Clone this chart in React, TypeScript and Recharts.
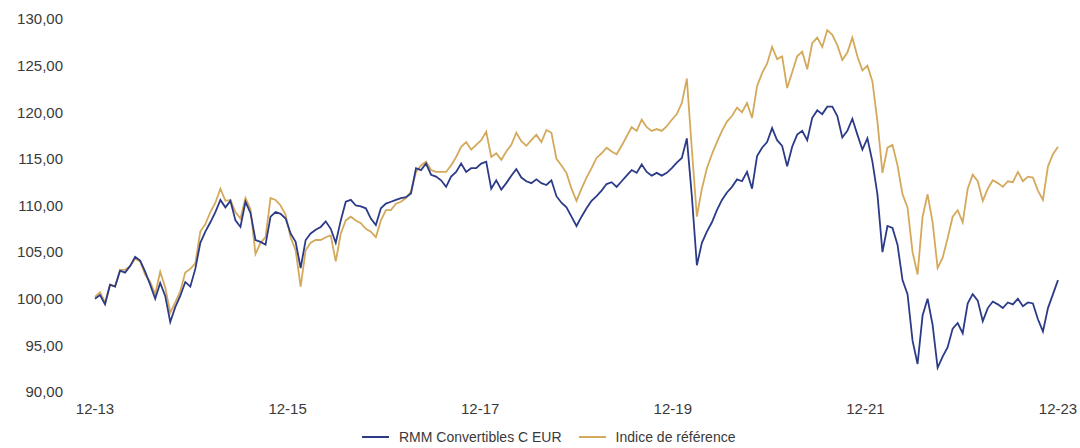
import { Legend, Line, LineChart, XAxis, YAxis } from "recharts";

const COLOR_FUND = "#2c3b88";
const COLOR_INDEX = "#d4a95c";
const TEXT_COLOR = "#3a3a3a";
const FONT = "'Liberation Sans', Arial, sans-serif";

const FUND_NAME = "RMM Convertibles C EUR";
const INDEX_NAME = "Indice de référence";

// x ticks: months since 12-13
const TICK_MONTHS = [0, 24, 48, 72, 96, 120];
const TICK_LABELS = ["12-13", "12-15", "12-17", "12-19", "12-21", "12-23"];
const Y_TICKS = [90, 95, 100, 105, 110, 115, 120, 125, 130];

const FUND = [
  100.0, 100.4, 99.4, 101.5, 101.3, 103.0, 102.8, 103.5, 104.5, 104.1,
  102.9, 101.5, 100.0, 101.7, 100.3, 97.5, 99.1, 100.3, 101.8, 101.3,
  103.2, 106.0, 107.2, 108.2, 109.3, 110.6, 109.8, 110.5, 108.4, 107.7,
  110.4, 109.2, 106.3, 106.1, 105.8, 108.8, 109.3, 109.1, 108.6, 107.0,
  106.1, 103.3, 106.3, 107.0, 107.4, 107.7, 108.3, 107.5, 106.0, 108.4,
  110.4, 110.6, 110.0, 109.9, 109.7, 108.6, 107.9, 109.7, 110.2, 110.4,
  110.6, 110.8, 110.9, 111.3, 114.0, 113.8, 114.5, 113.3, 113.1, 112.7,
  112.0, 113.1, 113.6, 114.5, 113.6, 114.0, 114.0, 114.5, 114.7, 111.8,
  112.7, 111.7, 112.4, 113.2, 113.9, 113.0, 112.6, 112.4, 112.8, 112.4,
  112.2, 112.7, 111.0, 110.3, 109.8, 108.8, 107.8, 108.8, 109.7, 110.5,
  111.0, 111.6, 112.3, 112.5, 112.0, 112.6, 113.2, 113.8, 113.5, 114.4,
  113.6, 113.2, 113.5, 113.2, 113.5, 114.0, 114.6, 115.1, 117.2, 111.0,
  103.6, 106.0, 107.2, 108.2, 109.5, 110.6, 111.4, 112.0, 112.8, 112.6,
  113.6, 111.8, 115.3, 116.2, 116.8, 118.3, 117.0, 116.4, 114.2, 116.3,
  117.6, 118.0, 117.0, 119.4, 120.2, 119.8, 120.6, 120.6, 119.6, 117.3,
  118.0, 119.3, 117.6, 116.0, 117.2, 114.7, 111.2, 105.0, 107.8, 107.6,
  105.8, 102.0, 100.5, 95.5, 93.0, 98.2, 100.0, 97.2, 92.6, 93.8,
  94.8, 96.8, 97.4, 96.3, 99.5, 100.5, 99.8, 97.6, 99.0, 99.7,
  99.4, 99.0, 99.6, 99.4, 100.0, 99.2, 99.6, 99.5, 97.8, 96.5,
  99.0, 100.5, 102.0,
];

const INDEX = [
  100.2, 100.7, 99.6, 101.5, 101.3, 103.1, 103.1, 103.5, 104.3, 104.0,
  102.6, 101.8, 100.5, 102.9, 101.2, 98.5, 99.6, 100.8, 102.8, 103.2,
  103.8, 107.2, 108.0, 109.3, 110.3, 111.8, 110.5, 110.6, 109.3, 108.6,
  110.8, 109.6, 104.8, 106.0, 106.6, 110.8, 110.6, 110.0, 109.0, 106.6,
  105.2, 101.3, 105.2, 106.0, 106.3, 106.3, 106.6, 106.8, 104.0, 107.0,
  108.4, 108.8, 108.4, 108.1, 107.5, 107.2, 106.6, 108.4, 109.5, 109.5,
  110.2, 110.4, 110.8, 111.5, 113.6, 114.3, 114.7, 113.8, 113.6, 113.6,
  113.6, 114.3, 115.2, 116.3, 116.8, 116.0, 116.5, 117.0, 117.9, 115.2,
  115.6, 114.9, 115.8, 116.5, 117.8, 116.9, 116.4, 117.0, 117.6, 116.8,
  118.1, 117.8, 115.0, 114.3, 113.5, 111.8, 110.5, 111.8, 113.0, 114.0,
  115.1, 115.6, 116.2, 115.8, 115.5, 116.4, 117.4, 118.4, 118.0, 119.2,
  118.4, 118.0, 118.2, 118.0, 118.5, 119.2, 119.8, 121.0, 123.6, 116.0,
  108.8, 111.8, 114.0, 115.5, 116.8, 118.0, 119.0, 119.6, 120.5, 120.0,
  121.0, 119.4, 122.8, 124.2, 125.2, 127.0, 125.7, 126.0, 122.6, 124.3,
  126.0, 126.5, 124.6, 127.4, 128.0, 127.0, 128.8, 128.3, 127.2, 125.6,
  126.4, 128.0, 126.0, 124.5, 125.0, 123.3, 119.0, 113.5, 116.2, 116.5,
  114.3, 111.2, 109.8, 105.0, 102.6, 108.8, 111.2, 108.2, 103.3, 104.4,
  106.5, 108.8, 109.5, 108.2, 111.8, 113.3, 112.6, 110.5, 111.8, 112.7,
  112.4, 112.0, 112.6, 112.5, 113.6, 112.6, 113.1, 113.0, 111.6, 110.6,
  114.2, 115.5, 116.3,
];

const STEP = 120 / (FUND.length - 1);

const data = FUND.map((v, i) => ({
  month: i * STEP,
  fund: v,
  index: INDEX[i],
}));

function formatValue(v: number): string {
  return v.toFixed(2).replace(".", ",");
}

function formatMonth(m: number): string {
  const idx = TICK_MONTHS.indexOf(m);
  return idx >= 0 ? TICK_LABELS[idx] : "";
}

function ChartLegend() {
  const items = [
    { name: FUND_NAME, color: COLOR_FUND },
    { name: INDEX_NAME, color: COLOR_INDEX },
  ];
  return (
    <div
      style={{
        display: "flex",
        justifyContent: "flex-start",
        gap: 17,
        marginTop: 9,
        paddingLeft: 362,
        fontFamily: FONT,
        fontSize: 14,
        color: TEXT_COLOR,
      }}
    >
      {items.map((it) => (
        <span
          key={it.name}
          style={{ display: "flex", alignItems: "center", gap: 10 }}
        >
          <svg width={27} height={4}>
            <line x1={0} y1={2} x2={27} y2={2} stroke={it.color} strokeWidth={2} />
          </svg>
          {it.name}
        </span>
      ))}
    </div>
  );
}

export default function App() {
  return (
    <div
      style={{
        position: "absolute",
        left: 0,
        top: 0,
        width: 1080,
        height: 448,
        background: "#fff",
      }}
    >
      <LineChart
        width={1080}
        height={448}
        data={data}
        margin={{ top: 19, right: 22, bottom: 0, left: 0 }}
      >
        <XAxis
          dataKey="month"
          type="number"
          domain={[0, 120]}
          ticks={TICK_MONTHS}
          tickFormatter={formatMonth}
          axisLine={false}
          tickLine={false}
          tickSize={0}
          tickMargin={11}
          height={28}
          tick={{ fontSize: 15, fill: TEXT_COLOR, fontFamily: FONT }}
        />
        <YAxis
          type="number"
          domain={[90, 130]}
          ticks={Y_TICKS}
          tickFormatter={formatValue}
          axisLine={false}
          tickLine={false}
          tickSize={0}
          tickMargin={32}
          width={95}
          tick={{ fontSize: 15, fill: TEXT_COLOR, fontFamily: FONT }}
        />
        <Legend
          verticalAlign="bottom"
          height={28}
          content={() => <ChartLegend />}
        />
        <Line
          dataKey="index"
          name={INDEX_NAME}
          stroke={COLOR_INDEX}
          strokeWidth={1.8}
          dot={false}
          isAnimationActive={false}
        />
        <Line
          dataKey="fund"
          name={FUND_NAME}
          stroke={COLOR_FUND}
          strokeWidth={1.8}
          dot={false}
          isAnimationActive={false}
        />
      </LineChart>
    </div>
  );
}
